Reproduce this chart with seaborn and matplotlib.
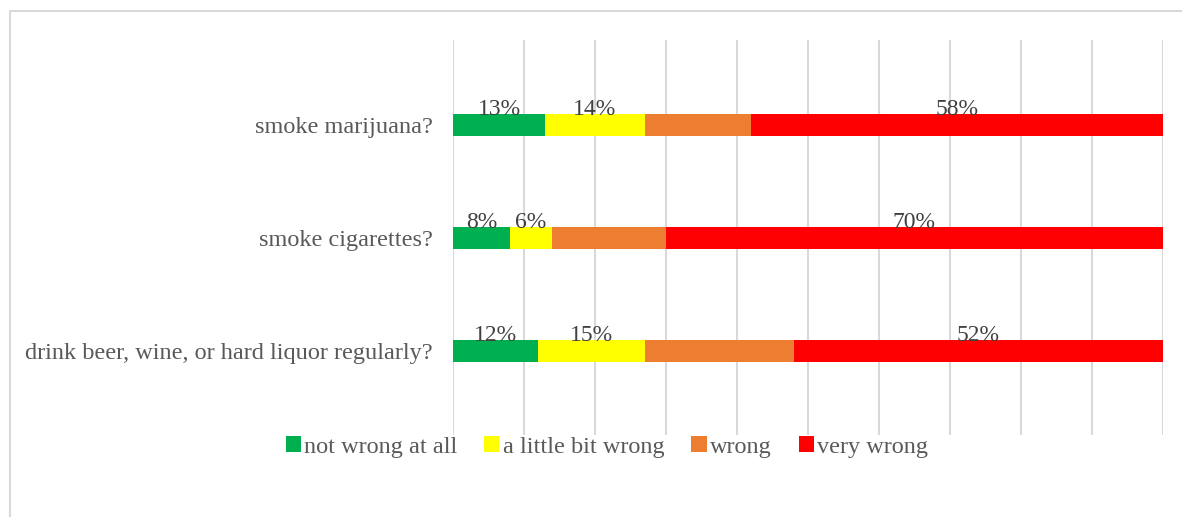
import matplotlib
matplotlib.use("Agg")
import matplotlib.pyplot as plt
import seaborn as sns
import pandas as pd
import numpy as np
from matplotlib.patches import Patch
from matplotlib.lines import Line2D

categories = ["smoke marijuana?", "smoke cigarettes?", "drink beer, wine, or hard liquor regularly?"]
series_names = ["not wrong at all", "a little bit wrong", "wrong", "very wrong"]
not_wrong = [13, 8, 12]
little_wrong = [14, 6, 15]
wrong = [15, 16, 21]
very_wrong = [58, 70, 52]
show_label = [True, True, False, True]
colors = ["#00B050", "#FFFF00", "#ED7D31", "#FF0000"]

sns.set_theme(style="white")
plt.rcParams["font.family"] = ["Liberation Serif", "DejaVu Serif"]

series = [not_wrong, little_wrong, wrong, very_wrong]
cum = np.cumsum(np.array(series), axis=0)

fig = plt.figure(figsize=(11.82, 5.17), dpi=100)
ax = fig.add_axes([453/1182, 1-435/517, 710/1182, 395/517])

for i in range(len(series) - 1, -1, -1):
    df = pd.DataFrame({"category": categories, "value": cum[i]})
    sns.barplot(data=df, x="value", y="category", orient="h", color=colors[i],
                saturation=1, width=22/113, ax=ax, zorder=2, edgecolor="none")

ax.set_xlim(0, 100)
ax.set_ylim(2 + (435-351)/113, -(125-40)/113)
ax.set_xticks(np.arange(0, 101, 10))
ax.xaxis.grid(True, color="#d9d9d9", linewidth=1.5, zorder=0)
ax.set_axisbelow(True)
ax.yaxis.grid(False)
ax.tick_params(axis="x", labelbottom=False, length=0)
ax.tick_params(axis="y", length=0, pad=14.5, labelsize=17.5, labelcolor="#595959")
ax.set_xlabel("")
ax.set_ylabel("")
for s in ax.spines.values():
    s.set_visible(False)

bar_h = 22/113
for i, vals in enumerate(series):
    if not show_label[i]:
        continue
    for j, v in enumerate(vals):
        start = cum[i][j] - v
        ax.text(start + v/2, j - bar_h/2 + 0.01, f"{v}%", ha="center", va="baseline",
                fontsize=17, color="#404040", zorder=3)

handles = [Patch(facecolor=c, edgecolor="none") for c in colors]
fig.legend(handles, series_names, loc="center", bbox_to_anchor=(607/1182, 1-447/517),
           ncol=4, frameon=False, fontsize=17.5, handlelength=0.62, handleheight=0.62,
           handletextpad=0.15, columnspacing=1.1, labelcolor="#595959")

fig.add_artist(Line2D([10/1182, 1], [1-11/517, 1-11/517], color="#d9d9d9", linewidth=1.5))
fig.add_artist(Line2D([10/1182, 10/1182], [0, 1-11/517], color="#d9d9d9", linewidth=1.5))

fig.savefig("out.png", dpi=100, facecolor="white")
